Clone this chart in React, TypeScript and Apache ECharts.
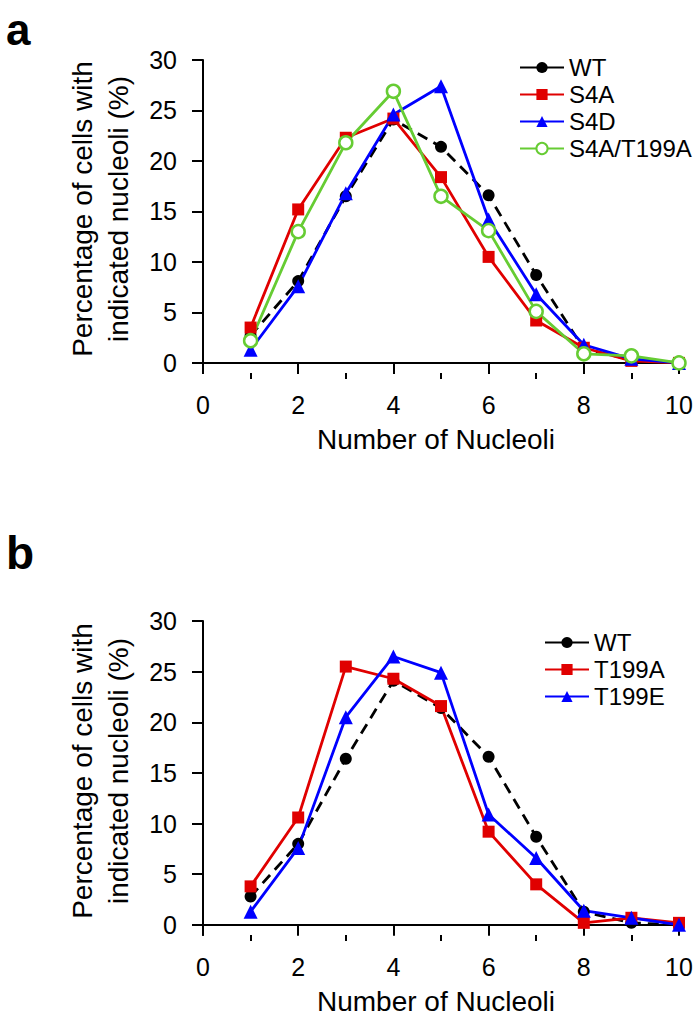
import React, { useEffect, useRef } from "react";
import * as echarts from "echarts";

const xValues = [1, 2, 3, 4, 5, 6, 7, 8, 9, 10];
// Panel a
const aWT = [2.7, 8.1, 16.5, 24.1, 21.4, 16.6, 8.7, 1.4, 0.3, 0];
const aS4A = [3.5, 15.2, 22.3, 24.2, 18.4, 10.5, 4.2, 1.5, 0.2, 0];
const aS4D = [1.3, 7.6, 16.8, 24.6, 27.4, 14.2, 6.8, 1.8, 0.4, 0];
const aS4AT199A = [2.2, 13.0, 21.8, 26.9, 16.5, 13.1, 5.1, 0.9, 0.7, 0];
// Panel b
const bWT = [2.8, 8.0, 16.4, 24.1, 21.4, 16.6, 8.7, 1.3, 0.2, 0];
const bT199A = [3.8, 10.6, 25.5, 24.3, 21.6, 9.2, 4.0, 0.2, 0.7, 0.2];
const bT199E = [1.3, 7.6, 20.5, 26.5, 24.9, 10.9, 6.6, 1.4, 0.7, 0];

const yTicks = [0, 5, 10, 15, 20, 25, 30];
const xMajor = [0, 2, 4, 6, 8, 10];
const xMinor = [1, 3, 5, 7, 9];

const FONT = "'Liberation Sans', Arial, Helvetica, sans-serif";
const RED = "#e00000";
const BLUE = "#0000ff";
const GREEN = "#66cc33";

function pts(vals: number[]) {
  return xValues.map((x, i) => [x, vals[i]]);
}

export default function App() {
  const ref = useRef<HTMLDivElement>(null);
  useEffect(() => {
    if (!ref.current) return;
    const chart = echarts.init(ref.current, undefined, { renderer: "svg" });

    const grids = [
      { left: 193, top: 60, width: 486, height: 313 },
      { left: 193, top: 621, width: 486, height: 314 },
    ];

    const mainX = (gi: number) => ({
      type: "value",
      gridIndex: gi,
      min: -0.21,
      max: 10,
      splitLine: { show: false },
      axisLine: { show: true, lineStyle: { color: "#000", width: 2 } },
      axisTick: { show: true, customValues: xMajor, length: 11, lineStyle: { color: "#000", width: 2 } },
      axisLabel: { customValues: xMajor, fontSize: 25, color: "#000", fontFamily: FONT, margin: 19 },
      name: "Number of Nucleoli",
      nameLocation: "middle",
      nameGap: 52,
      nameTextStyle: { fontSize: 28, color: "#000", fontFamily: FONT },
    });
    const minorX = (gi: number) => ({
      type: "value",
      gridIndex: gi,
      min: -0.21,
      max: 10,
      position: "bottom",
      splitLine: { show: false },
      axisLine: { show: false },
      axisTick: { show: true, customValues: xMinor, length: 6, lineStyle: { color: "#000", width: 2 } },
      axisLabel: { show: false },
    });
    const yAx = (gi: number) => ({
      type: "value",
      gridIndex: gi,
      min: -1,
      max: 30,
      splitLine: { show: false },
      axisLine: { show: true, lineStyle: { color: "#000", width: 2 } },
      axisTick: { show: true, customValues: yTicks, length: 11, lineStyle: { color: "#000", width: 2 } },
      axisLabel: { customValues: yTicks, fontSize: 25, color: "#000", fontFamily: FONT, margin: 16 },
    });

    const mk = (
      name: string,
      vals: number[],
      gi: number,
      color: string,
      symbol: string,
      size: number,
      dashed = false,
      hollow = false
    ) => ({
      type: "line",
      name,
      xAxisIndex: gi * 2,
      yAxisIndex: gi,
      data: pts(vals),
      symbol,
      symbolSize: size,
      lineStyle: { color, width: 2.8, type: dashed ? [11, 7] : "solid" },
      itemStyle: hollow
        ? { color: "#ffffff", borderColor: color, borderWidth: 2.5 }
        : { color, borderWidth: 0 },
      emphasis: { disabled: true },
    });

    const legendBase = {
      orient: "vertical",
      padding: 0,
      itemGap: 0,
      itemWidth: 44,
      itemHeight: 14,
      selectedMode: false,
      lineStyle: { type: "solid" },
      textStyle: { fontSize: 24, color: "#000", fontFamily: FONT, lineHeight: 27 },
    };

    const yTitle = (y: number) => ({
      type: "text",
      x: 100,
      y,
      rotation: Math.PI / 2,
      style: {
        text: "Percentage of cells with\nindicated nucleoli (%)",
        fontSize: 28,
        lineHeight: 36,
        fontFamily: FONT,
        fill: "#000",
        align: "center",
        verticalAlign: "middle",
      },
    });

    chart.setOption({
      animation: false,
      backgroundColor: "#fff",
      grid: grids,
      xAxis: [mainX(0), minorX(0), mainX(1), minorX(1)],
      yAxis: [yAx(0), yAx(1)],
      legend: [
        { ...legendBase, left: 519, top: 54, data: ["WT", "S4A", "S4D", "S4A/T199A"] },
        { ...legendBase, left: 544, top: 629, data: ["WT ", "T199A", "T199E"] },
      ],
      series: [
        mk("WT", aWT, 0, "#000", "circle", 12, true),
        mk("S4A", aS4A, 0, RED, "rect", 12),
        mk("S4D", aS4D, 0, BLUE, "triangle", 14),
        mk("S4A/T199A", aS4AT199A, 0, GREEN, "circle", 13, false, true),
        mk("WT ", bWT, 1, "#000", "circle", 12, true),
        mk("T199A", bT199A, 1, RED, "rect", 12),
        mk("T199E", bT199E, 1, BLUE, "triangle", 14),
      ],
      graphic: [
        {
          type: "text",
          x: 6,
          y: 29,
          style: { text: "a", fontSize: 44, fontWeight: "bold", fontFamily: FONT, fill: "#000", verticalAlign: "middle" },
        },
        {
          type: "text",
          x: 6,
          y: 553,
          style: { text: "b", fontSize: 46, fontWeight: "bold", fontFamily: FONT, fill: "#000", verticalAlign: "middle" },
        },
        yTitle(209),
        yTitle(771),
      ],
    });
    return () => chart.dispose();
  }, []);
  return <div ref={ref} style={{ position: "absolute", left: 0, top: 0, width: 700, height: 1017 }} />;
}
